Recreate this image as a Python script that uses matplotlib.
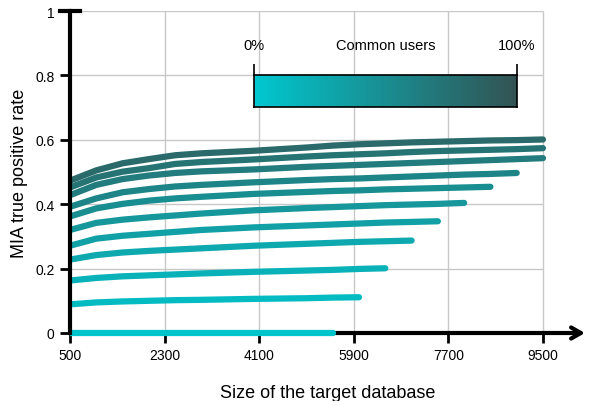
import numpy as np
import matplotlib.pyplot as plt
from matplotlib.colors import LinearSegmentedColormap
from matplotlib.patches import Rectangle

plt.rcParams['font.family'] = ['Liberation Sans', 'DejaVu Sans']

# target database sizes (x) and MIA true positive rate per share of common users
sizes = [500, 1000, 1500, 2000, 2500, 3000, 4000, 5000, 5500,
         6000, 6500, 7000, 7500, 8000, 8500, 9000, 9500]
common_pct = [0, 10, 20, 30, 40, 50, 60, 70, 80, 90, 100]
tpr = [
    [0, 0, 0, 0, 0, 0, 0, 0, 0],
    [0.089, 0.095, 0.098, 0.100, 0.102, 0.103, 0.106, 0.108, 0.110, 0.111],
    [0.163, 0.171, 0.176, 0.179, 0.182, 0.185, 0.190, 0.194, 0.196, 0.199, 0.201],
    [0.228, 0.242, 0.250, 0.255, 0.259, 0.263, 0.271, 0.277, 0.280, 0.283, 0.285, 0.287],
    [0.271, 0.293, 0.302, 0.308, 0.314, 0.320, 0.328, 0.334, 0.337, 0.340, 0.343, 0.345, 0.347],
    [0.320, 0.342, 0.352, 0.359, 0.365, 0.371, 0.381, 0.388, 0.391, 0.394, 0.397, 0.399, 0.401, 0.404],
    [0.362, 0.387, 0.401, 0.411, 0.418, 0.423, 0.432, 0.438, 0.441, 0.443, 0.446, 0.448, 0.450, 0.452, 0.454],
    [0.392, 0.418, 0.437, 0.447, 0.455, 0.460, 0.468, 0.475, 0.478, 0.480, 0.483, 0.486, 0.489, 0.492, 0.494, 0.497],
    [0.428, 0.460, 0.478, 0.489, 0.497, 0.502, 0.508, 0.516, 0.519, 0.522, 0.525, 0.528, 0.531, 0.534, 0.537, 0.540, 0.543],
    [0.452, 0.483, 0.501, 0.512, 0.525, 0.531, 0.539, 0.548, 0.552, 0.555, 0.558, 0.562, 0.565, 0.567, 0.569, 0.571, 0.574],
    [0.473, 0.505, 0.527, 0.540, 0.552, 0.558, 0.566, 0.576, 0.582, 0.586, 0.589, 0.592, 0.594, 0.596, 0.598, 0.599, 0.601],
]
xticks = [500, 2300, 4100, 5900, 7700, 9500]
yticks = [0, 0.2, 0.4, 0.6, 0.8, 1]

line_cmap = LinearSegmentedColormap.from_list('lines', ['#00c4cc', '#2a6a6a'])
bar_cmap = LinearSegmentedColormap.from_list('bar', ['#00c8d0', '#335353'])

fig = plt.figure(figsize=(5.92, 4.02), dpi=100)
ax = fig.add_axes([70/592, 68/402, 515/592, 322/402])

# grid only inside the data range
ax.hlines(yticks[1:], xticks[0], xticks[-1], color='#c8c8c8', lw=1, zorder=0)
ax.vlines(xticks[1:], 0, 1, color='#c8c8c8', lw=1, zorder=0)

clip = Rectangle((500, -0.1), 10000, 1.3, transform=ax.transData)
for pct, ys in zip(common_pct, tpr):
    ln, = ax.plot(sizes[:len(ys)], ys, color=line_cmap(pct / 100), lw=4.5,
                  solid_capstyle='round', zorder=3)
    ln.set_clip_path(clip)

ax.set_xlim(500, 10300)
ax.set_ylim(0, 1)
ax.set_xticks(xticks)
ax.set_yticks(yticks)
ax.set_yticklabels(['0', '0.2', '0.4', '0.6', '0.8', '1'])
ax.tick_params(direction='out', length=7, width=2, labelsize=10, pad=4)

for s in ['top', 'right', 'bottom']:
    ax.spines[s].set_visible(False)
ax.spines['left'].set_linewidth(3)
ax.spines['left'].set_zorder(4)

# x axis with an arrow head
ax.annotate('', xy=(1, 0), xycoords='axes fraction', xytext=(0, 0),
            arrowprops=dict(arrowstyle='->,head_length=0.7,head_width=0.4', lw=3,
                            color='black', shrinkA=0, shrinkB=0), zorder=2)
ax.plot([310, 690], [1, 1], color='black', lw=3, clip_on=False, zorder=4)

ax.set_xlabel('Size of the target database', fontsize=13, labelpad=16)
ax.set_ylabel('MIA true positive rate', fontsize=13, labelpad=5)

# gradient legend
cax = fig.add_axes([254/592, (402-108)/402, 263/592, 32/402])
grad = np.linspace(0, 1, 256).reshape(1, -1)
cax.imshow(grad, aspect='auto', cmap=bar_cmap, extent=[0, 1, 0, 1])
cax.set_xlim(0, 1)
cax.set_ylim(0, 1)
cax.set_yticks([])
cax.xaxis.tick_top()
cax.set_xticks([0, 1])
cax.set_xticklabels([])
cax.tick_params(axis='x', length=8, width=1.2, direction='out')
for s in cax.spines.values():
    s.set_linewidth(1.2)
for xpos, label in [(0, '0%'), (0.5, 'Common users'), (1, '100%')]:
    cax.text(xpos, 1.95, label, ha='center', va='center', fontsize=10.5,
             transform=cax.transAxes)

fig.savefig('out.png', dpi=100)
